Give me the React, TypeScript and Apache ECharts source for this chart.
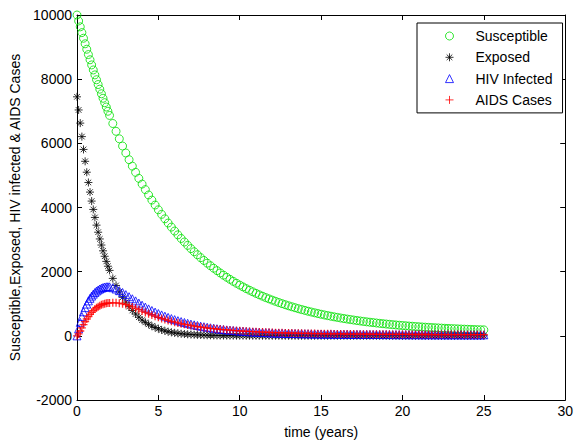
import React, { useEffect, useRef } from "react";
import * as echarts from "echarts";

// sample times (years): 0..2 every 0.1, then 2.2..25 every 0.2
const timeRanges = [
  { from: 0, to: 2, step: 0.1 },
  { from: 2.2, to: 25, step: 0.2 },
];

const susceptible = [
  10000, 9814, 9631, 9451, 9276, 9103, 8933, 8767, 8604, 8444, 8287, 8133, 7982, 7833, 7688, 7545, 7405, 7267, 7132, 7000, 6870,
  6618, 6375, 6141, 5916, 5699, 5490, 5289, 5096, 4909, 4730,
  4557, 4391, 4231, 4077, 3929, 3786, 3648, 3516, 3389, 3266,
  3148, 3034, 2925, 2820, 2718, 2621, 2527, 2436, 2349, 2265,
  2185, 2107, 2032, 1960, 1891, 1824, 1760, 1698, 1638, 1581,
  1526, 1472, 1421, 1372, 1324, 1279, 1235, 1192, 1152, 1113,
  1075, 1038, 1003, 970, 937, 906, 876, 847, 819, 793,
  767, 742, 718, 695, 673, 651, 631, 611, 592, 574,
  556, 539, 523, 507, 492, 477, 463, 449, 436, 424,
  412, 400, 389, 378, 368, 358, 348, 339, 330, 321,
  313, 305, 298, 290, 283, 276, 270, 263, 257, 251,
  246, 240, 235, 230, 225, 221, 216, 212, 208, 204,
  200, 196, 192, 189, 186,
];

const exposed = [
  7450, 7040, 6630, 6210, 5810, 5440, 5100, 4780, 4480, 4200, 3940, 3690, 3450, 3230, 3020, 2830, 2650, 2480, 2320, 2170, 2040,
  1790, 1570, 1370, 1200, 1050, 910, 790, 680, 580, 490,
  420, 360, 305, 260, 220, 185, 155, 130, 110, 92,
  78, 66, 56, 48, 41, 35, 30, 26, 22, 19,
  16, 14, 12, 10, 9, 8, 7, 6, 6, 5,
  5, 4, 4, 3, 3, 3, 3, 2, 2, 2,
  2, 2, 2, 2, 1, 1, 1, 1, 1, 1,
  1, 1, 1, 1, 1, 1, 1, 1, 1, 1,
  1, 1, 1, 0, 0, 0, 0, 0, 0, 0,
  0, 0, 0, 0, 0, 0, 0, 0, 0, 0,
  0, 0, 0, 0, 0, 0, 0, 0, 0, 0,
  0, 0, 0, 0, 0, 0, 0, 0, 0, 0,
  0, 0, 0, 0, 0,
];

const hivInfected = [
  0, 220, 420, 600, 750, 880, 990, 1090, 1170, 1240, 1300, 1350, 1395, 1430, 1460, 1485, 1505, 1520, 1528, 1530, 1527,
  1500, 1460, 1410, 1350, 1285, 1220, 1155, 1090, 1020, 955,
  895, 840, 790, 740, 695, 652, 612, 574, 538, 505,
  473, 444, 416, 390, 366, 343, 322, 302, 284, 267,
  251, 236, 222, 209, 197, 186, 176, 166, 157, 149,
  141, 134, 127, 121, 115, 110, 105, 100, 96, 92,
  88, 85, 82, 79, 76, 73, 71, 69, 67, 65,
  63, 61, 60, 58, 57, 55, 54, 53, 52, 51,
  50, 49, 48, 47, 46, 45, 45, 44, 43, 43,
  42, 41, 41, 40, 40, 39, 39, 38, 38, 37,
  37, 37, 36, 36, 36, 35, 35, 35, 35, 34,
  34, 34, 34, 33, 33, 33, 33, 33, 32, 32,
  32, 32, 32, 31, 31,
];

const aidsCases = [
  0, 60, 150, 250, 350, 440, 525, 600, 670, 730, 785, 833, 875, 910, 940, 965, 985, 1000, 1012, 1020, 1025,
  1030, 1028, 1018, 1000, 975, 940, 900, 858, 815, 772,
  730, 690, 650, 612, 576, 542, 510, 480, 452, 426,
  402, 380, 360, 340, 322, 305, 289, 274, 260, 247,
  235, 224, 213, 203, 194, 185, 177, 169, 162, 155,
  148, 142, 136, 131, 126, 121, 116, 112, 108, 104,
  100, 97, 94, 91, 88, 85, 83, 80, 78, 76,
  74, 72, 70, 68, 66, 65, 63, 62, 60, 59,
  58, 57, 56, 55, 54, 53, 52, 51, 50, 50,
  49, 48, 48, 47, 46, 46, 45, 45, 44, 44,
  43, 43, 42, 42, 42, 41, 41, 41, 40, 40,
  40, 39, 39, 39, 38, 38, 38, 38, 37, 37,
  37, 37, 36, 36, 36,
];

const seriesNames = ["Susceptible", "Exposed", "HIV Infected", "AIDS Cases"];
const xTitle = "time (years)";
const yTitle = "Susceptible,Exposed, HIV infected & AIDS Cases";

const FONT = "Arial, 'Liberation Sans', Helvetica, sans-serif";

function buildTimes(): number[] {
  const out: number[] = [];
  for (const r of timeRanges) {
    const n = Math.round((r.to - r.from) / r.step);
    for (let i = 0; i <= n; i++) out.push(Math.round((r.from + i * r.step) * 10) / 10);
  }
  return out;
}

export default function App() {
  const ref = useRef<HTMLDivElement>(null);
  useEffect(() => {
    if (!ref.current) return;
    const chart = echarts.init(ref.current, undefined, { renderer: "svg" });
    const times = buildTimes();
    const pair = (vals: number[]) => times.map((t, i) => [t, vals[i]]);

    const axisCommon = {
      axisLine: { show: true, onZero: false, lineStyle: { color: "#000", width: 1 } },
      axisTick: { show: true, inside: true, length: 5, lineStyle: { color: "#000" } },
      splitLine: { show: false },
    };
    const plain = (v: number) => String(v);

    chart.setOption({
      animation: false,
      backgroundColor: "#fff",
      grid: { left: 77, right: 7, top: 15, bottom: 42, containLabel: false },
      xAxis: [
        {
          type: "value",
          min: 0,
          max: 30,
          interval: 5,
          position: "bottom",
          ...axisCommon,
          axisLabel: { fontSize: 14, color: "#000", margin: 4, fontFamily: FONT, formatter: plain },
          name: xTitle,
          nameLocation: "middle",
          nameGap: 25,
          nameTextStyle: { fontSize: 14, color: "#000", fontFamily: FONT },
        },
        {
          type: "value",
          min: 0,
          max: 30,
          interval: 5,
          position: "top",
          ...axisCommon,
          axisLabel: { show: false },
        },
      ],
      yAxis: [
        {
          type: "value",
          min: -2000,
          max: 10000,
          interval: 2000,
          position: "left",
          ...axisCommon,
          axisLabel: { fontSize: 14, color: "#000", margin: 5, fontFamily: FONT, formatter: plain },
          name: yTitle,
          nameLocation: "middle",
          nameGap: 54,
          nameTextStyle: { fontSize: 14, color: "#000", fontFamily: FONT },
        },
        {
          type: "value",
          min: -2000,
          max: 10000,
          interval: 2000,
          position: "right",
          ...axisCommon,
          axisLabel: { show: false },
        },
      ],
      legend: {
        show: true,
        orient: "vertical",
        left: 417,
        top: 23,
        padding: [6, 10, 6, 28],
        itemGap: 7.3,
        itemWidth: 8,
        itemHeight: 8,
        borderColor: "#000",
        borderWidth: 1,
        backgroundColor: "#fff",
        selectedMode: false,
        itemStyle: { borderWidth: 1 },
        textStyle: { fontSize: 14, color: "#000", fontFamily: FONT, padding: [0, 0, 0, 17] },
        data: seriesNames,
      },
      series: [
        {
          name: seriesNames[0],
          type: "scatter",
          clip: false,
          symbol: "circle",
          symbolSize: 8,
          itemStyle: { color: "rgba(0,0,0,0)", borderColor: "#00e000", borderWidth: 1 },
          data: pair(susceptible),
        },
        {
          name: seriesNames[1],
          type: "scatter",
          clip: false,
          symbol: "path://M5,0L5,10M0,5L10,5M1.5,1.5L8.5,8.5M1.5,8.5L8.5,1.5",
          symbolSize: 8,
          itemStyle: { color: "#000", borderColor: "#000", borderWidth: 1 },
          data: pair(exposed),
        },
        {
          name: seriesNames[2],
          type: "scatter",
          clip: false,
          symbol: "triangle",
          symbolSize: 8,
          itemStyle: { color: "rgba(0,0,0,0)", borderColor: "#0000ff", borderWidth: 1 },
          data: pair(hivInfected),
        },
        {
          name: seriesNames[3],
          type: "scatter",
          clip: false,
          symbol: "path://M5,0L5,10M0,5L10,5",
          symbolSize: 8,
          itemStyle: { color: "#ff0000", borderColor: "#ff0000", borderWidth: 1.3 },
          data: pair(aidsCases),
        },
      ],
    });
    return () => chart.dispose();
  }, []);
  return (
    <div
      ref={ref}
      style={{ position: "absolute", left: 0, top: 0, width: 576, height: 444, background: "#fff" }}
    />
  );
}
